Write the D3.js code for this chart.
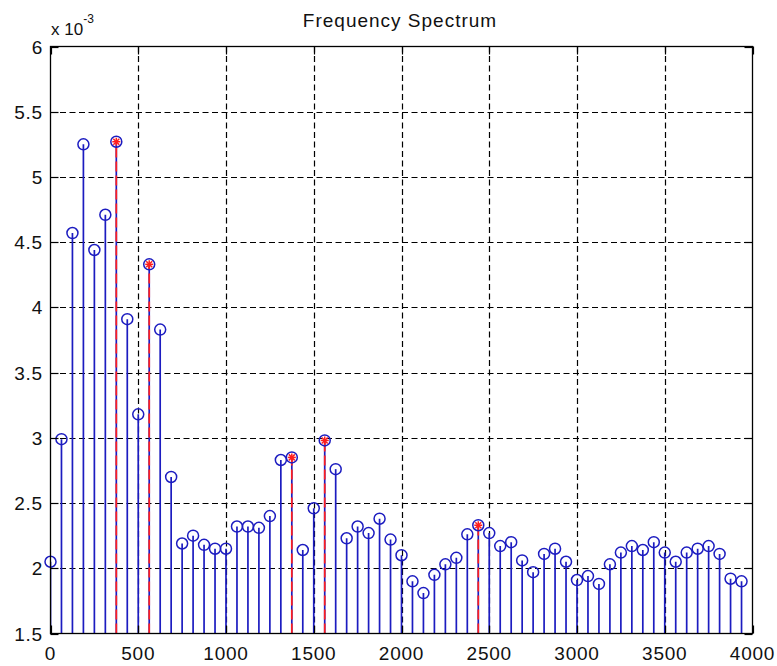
<!DOCTYPE html>
<html>
<head>
<meta charset="utf-8">
<script src="https://cdn.jsdelivr.net/npm/d3@7"></script>
<style>
  html, body { margin: 0; padding: 0; background: #fff; }
  svg { display: block; }
  text { font-family: "Liberation Sans", Arial, sans-serif; fill: #111; }
</style>
</head>
<body>
<svg id="chart" width="777" height="666"></svg>
<script>
// Spectrum bins (Hz) and magnitudes (in units of 1e-3)
const binStep = 62.5;
const magnitudes = [
  2.05, 2.99, 4.57, 5.25, 4.44, 4.71, 5.27, 3.91, 3.18, 4.33,
  3.83, 2.70, 2.19, 2.25, 2.18, 2.15, 2.15, 2.32, 2.32, 2.31,
  2.40, 2.83, 2.85, 2.14, 2.46, 2.98, 2.76, 2.23, 2.32, 2.27,
  2.38, 2.22, 2.10, 1.90, 1.81, 1.95, 2.03, 2.08, 2.26, 2.33,
  2.27, 2.17, 2.20, 2.06, 1.97, 2.11, 2.15, 2.05, 1.91, 1.94,
  1.88, 2.03, 2.12, 2.17, 2.14, 2.20, 2.12, 2.05, 2.12, 2.15,
  2.17, 2.11, 1.92, 1.90
];
const frequencies = magnitudes.map((_, i) => i * binStep);
// Bins picked out as peaks
const peakIndices = [6, 9, 22, 25, 39];

const xTicks = [0, 500, 1000, 1500, 2000, 2500, 3000, 3500, 4000];
const yTicks = [1.5, 2, 2.5, 3, 3.5, 4, 4.5, 5, 5.5, 6];
const titleText = "Frequency Spectrum";

const svg = d3.select("#chart");
const plotLeft = 50.5, plotRight = 752.5, plotTop = 46.5, plotBottom = 633.5;

const x = d3.scaleLinear().domain([0, 4000]).range([plotLeft, plotRight]);
const y = d3.scaleLinear().domain([1.5, 6]).range([plotBottom, plotTop]);

const blue = "#1c1cc0";
const red = "#ff1e1e";

// Grid
const grid = svg.append("g").attr("stroke", "#000").attr("stroke-width", 1.2)
  .attr("stroke-dasharray", "6,3.5");
grid.selectAll(".gx").data(xTicks.slice(1, -1)).join("line")
  .attr("x1", d => Math.round(x(d)) + 0.5).attr("x2", d => Math.round(x(d)) + 0.5)
  .attr("y1", plotTop).attr("y2", plotBottom);
grid.selectAll(".gy").data(yTicks.slice(1, -1)).join("line")
  .attr("y1", d => Math.round(y(d)) + 0.5).attr("y2", d => Math.round(y(d)) + 0.5)
  .attr("x1", plotLeft).attr("x2", plotRight);

// Clip for stems
svg.append("clipPath").attr("id", "plotClip").append("rect")
  .attr("x", plotLeft).attr("y", plotTop - 10)
  .attr("width", plotRight - plotLeft).attr("height", plotBottom - plotTop + 10);

const plot = svg.append("g").attr("clip-path", "url(#plotClip)");

// Stems and circle markers
plot.selectAll(".stem").data(magnitudes).join("line")
  .attr("x1", (d, i) => x(frequencies[i])).attr("x2", (d, i) => x(frequencies[i]))
  .attr("y1", plotBottom).attr("y2", d => y(d))
  .attr("stroke", blue).attr("stroke-width", 1.7);

svg.selectAll(".mk").data(magnitudes).join("circle")
  .attr("cx", (d, i) => x(frequencies[i])).attr("cy", d => y(d))
  .attr("r", 5.5).attr("fill", "none").attr("stroke", blue).attr("stroke-width", 1.5);

// Peak stems: red dashed over the blue stems, with asterisk markers
plot.selectAll(".peak").data(peakIndices).join("line")
  .attr("x1", i => x(frequencies[i])).attr("x2", i => x(frequencies[i]))
  .attr("y1", plotBottom).attr("y2", i => y(magnitudes[i]))
  .attr("stroke", red).attr("stroke-width", 1.7).attr("stroke-dasharray", "10,4");

const star = svg.selectAll(".star").data(peakIndices).join("g")
  .attr("transform", i => `translate(${x(frequencies[i])},${y(magnitudes[i])})`)
  .attr("stroke", red).attr("stroke-width", 1.5);
star.append("line").attr("x1", -4).attr("x2", 4).attr("y1", 0).attr("y2", 0);
star.append("line").attr("x1", 0).attr("x2", 0).attr("y1", -4).attr("y2", 4);
star.append("line").attr("x1", -3).attr("x2", 3).attr("y1", -3).attr("y2", 3);
star.append("line").attr("x1", -3).attr("x2", 3).attr("y1", 3).attr("y2", -3);

// Axes box
svg.append("rect").attr("x", plotLeft).attr("y", plotTop)
  .attr("width", plotRight - plotLeft).attr("height", plotBottom - plotTop)
  .attr("fill", "none").attr("stroke", "#000").attr("stroke-width", 1.3);

// Inward ticks on all four sides
const tk = 8;
const ticks = svg.append("g").attr("stroke", "#000").attr("stroke-width", 1.2);
xTicks.forEach(t => {
  const px = Math.round(x(t)) + 0.5;
  ticks.append("line").attr("x1", px).attr("x2", px).attr("y1", plotBottom).attr("y2", plotBottom - tk);
  ticks.append("line").attr("x1", px).attr("x2", px).attr("y1", plotTop).attr("y2", plotTop + tk);
});
yTicks.forEach(t => {
  const py = Math.round(y(t)) + 0.5;
  ticks.append("line").attr("y1", py).attr("y2", py).attr("x1", plotLeft).attr("x2", plotLeft + tk);
  ticks.append("line").attr("y1", py).attr("y2", py).attr("x1", plotRight).attr("x2", plotRight - tk);
});

// Tick labels
svg.selectAll(".xl").data(xTicks).join("text")
  .attr("x", d => x(d)).attr("y", 660)
  .attr("text-anchor", "middle").attr("font-size", 19).attr("letter-spacing", 0.8)
  .text(d => d);
svg.selectAll(".yl").data(yTicks).join("text")
  .attr("x", 43).attr("y", d => y(d) + 7)
  .attr("text-anchor", "end").attr("font-size", 19).attr("letter-spacing", 0.8)
  .text(d => d);

// Exponent label
const expo = svg.append("text").attr("x", 51).attr("y", 35).attr("font-size", 17);
expo.append("tspan").text("x 10");
expo.append("tspan").attr("font-size", 12).attr("dy", -12).text("-3");

// Title
svg.append("text").attr("x", 400).attr("y", 27).attr("text-anchor", "middle")
  .attr("font-size", 19).attr("letter-spacing", 1).text(titleText);
</script>
</body>
</html>
